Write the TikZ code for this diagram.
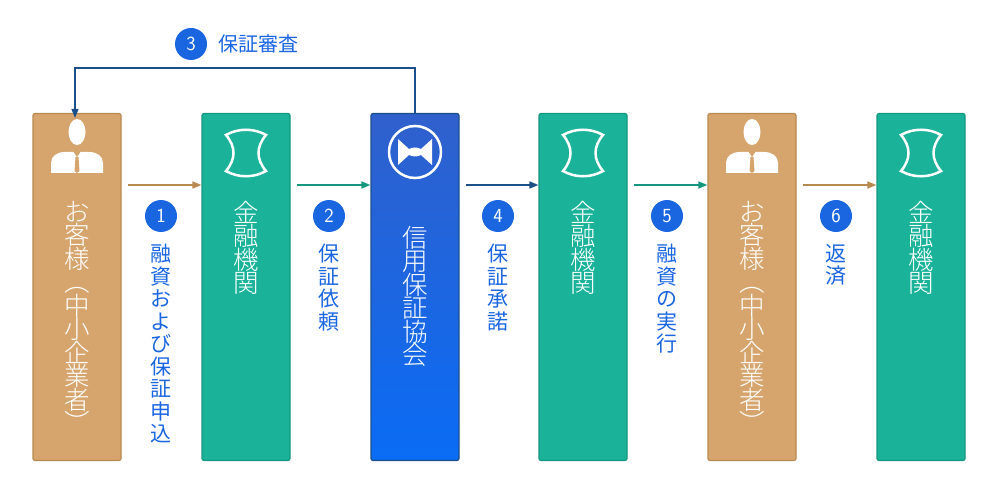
\documentclass[tikz,border=0pt]{standalone}
\usepackage{fontspec}
\newfontfamily\jp{Noto Sans CJK JP Light}
\newfontfamily\jpm{Noto Sans CJK JP}
\usetikzlibrary{positioning,arrows.meta}
\definecolor{tanfill}{HTML}{D6A56D}
\definecolor{tanline}{HTML}{B98A4F}
\definecolor{tealfill}{HTML}{1AB39A}
\definecolor{tealline}{HTML}{14977F}
\definecolor{navy}{HTML}{1A4F8A}
\definecolor{stepblue}{HTML}{1A66E0}
\tikzset{
  box/.style={rounded corners=2pt,line width=1.2pt,minimum width=88pt,minimum height=347pt,inner sep=0pt},
  custbox/.style={box,draw=tanline,fill=tanfill},
  bankbox/.style={box,draw=tealline,fill=tealfill},
  boxtext/.style={text=white,font=\jp\fontsize{25.5}{23.5}\selectfont,align=center,anchor=north,inner sep=0pt},
  steptext/.style={text=stepblue,font=\jpm\fontsize{21}{22.5}\selectfont,align=center,anchor=north,inner sep=0pt},
  num/.style={circle,fill=stepblue,text=white,minimum size=32pt,inner sep=0pt,font=\sffamily\fontsize{20}{20}\selectfont},
  flow/.style={line width=1.5pt,-{Triangle[length=9pt,width=7pt]}}
}
\newcommand\person[1]{\fill[white] (#1) ++(0,-8) ellipse (8.5 and 13);
  \fill[white] (#1) ++(-26,33) -- ++(0,-10) .. controls +(0,-7) and +(-8,0) .. ++(14,-11) -- ++(24,0) .. controls +(8,0) and +(0,-7) .. ++(14,11) -- ++(0,10) -- cycle;
  \fill[tanfill] (#1) ++(-4,11) -- ++(8,0) -- ++(-4,6) -- cycle;
  \fill[tanfill] (#1) ++(-1.5,17) -- ++(3,0) -- ++(1,14) -- ++(-2.5,2) -- ++(-2.5,-2) -- cycle;}
\newcommand\bank[1]{\draw[white,line width=2.5pt] (#1) ++(-20,-18) .. controls +(12,-7) and +(-12,-7) .. ++(40,0)
  .. controls +(-10,12) and +(-10,-12) .. ++(0,36) .. controls +(-12,7) and +(12,7) .. ++(-40,0)
  .. controls +(10,-12) and +(10,12) .. ++(0,-36) -- cycle;}
\begin{document}
\begin{tikzpicture}[x=1pt,y=-1pt]
\useasboundingbox (0,0) rectangle (1000,486);
% boxes
\node[custbox] (c1) at (77,287) {};
\node[bankbox] (b1) at (246,287) {};
\node[box,draw=navy,top color={rgb,255:red,48;green,96;blue,204},bottom color={rgb,255:red,10;green,108;blue,245}] (g) at (415,287) {};
\node[bankbox] (b2) at (583,287) {};
\node[custbox] (c2) at (752,287) {};
\node[bankbox] (b3) at (921,287) {};
% icons
\person{77,140}
\person{752,140}
\bank{246,153}
\bank{583,153}
\bank{921,153}
\draw[white,line width=2.5pt] (415,152) circle (26);
\fill[white] (398,139) -- (409,149) .. controls (413,147) and (417,147) .. (421,149) -- (432,139) -- (432,165) -- (421,155) .. controls (417,157) and (413,157) .. (409,155) -- (398,165) -- cycle;
% texts in boxes
\node[boxtext] at (77,201) {お\\客\\様\\︵\\中\\小\\企\\業\\者\\︶};
\node[boxtext] at (752,201) {お\\客\\様\\︵\\中\\小\\企\\業\\者\\︶};
\node[boxtext] at (246,201) {金\\融\\機\\関};
\node[boxtext] at (583,201) {金\\融\\機\\関};
\node[boxtext] at (921,201) {金\\融\\機\\関};
\node[boxtext] at (415,226) {信\\用\\保\\証\\協\\会};
% arrows
\draw[flow,tanline] (c1.east|-0,185) ++(6,0) -- (b1.west|-0,185);
\draw[flow,tealline] (b1.east|-0,185) ++(6,0) -- (g.west|-0,185);
\draw[flow,navy] (g.east|-0,185) ++(6,0) -- (b2.west|-0,185);
\draw[flow,tealline] (b2.east|-0,185) ++(6,0) -- (c2.west|-0,185);
\draw[flow,tanline] (c2.east|-0,185) ++(6,0) -- (b3.west|-0,185);
\draw[navy,line width=1.3pt,-{Triangle[length=9pt,width=7pt]}] (g.north) -- ++(0,-45) -| ([xshift=-2pt,yshift=-5pt]c1.north);
% step labels
\node[num] (n3) at (191,44) {3};
\node[right=8pt of n3,text=stepblue,font=\jpm\fontsize{20}{20}\selectfont] {保証審査};
\node[num] (n1) at (161,216) {1};
\node[steptext] at (161,244) {融\\資\\お\\よ\\び\\保\\証\\申\\込};
\node[num] (n2) at (329,216) {2};
\node[steptext] at (329,244) {保\\証\\依\\頼};
\node[num] (n4) at (498,216) {4};
\node[steptext] at (498,244) {保\\証\\承\\諾};
\node[num] (n5) at (667,216) {5};
\node[steptext] at (667,244) {融\\資\\の\\実\\行};
\node[num] (n6) at (836,216) {6};
\node[steptext] at (836,244) {返\\済};
\end{tikzpicture}
\end{document}
